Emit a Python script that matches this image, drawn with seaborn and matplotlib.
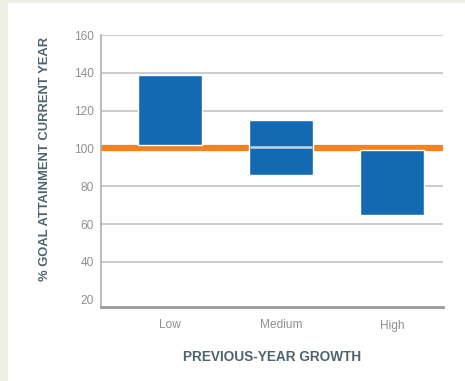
import numpy as np
import pandas as pd
import matplotlib
matplotlib.use("Agg")
import matplotlib.pyplot as plt
import seaborn as sns
from matplotlib.patches import Rectangle

# data
groups = ["Low", "Medium", "High"]
box_low = [102, 86, 65]
box_high = [139, 115, 99]
medium_mark = 100.8          # light line inside the Medium box
target = 100                 # orange reference line
yticks = [20, 40, 60, 80, 100, 120, 140, 160]

df = pd.DataFrame({"group": groups, "low": box_low, "high": box_high})
df["span"] = df["high"] - df["low"]

sns.set_theme(style="white")
plt.rcParams["font.family"] = ["Liberation Sans", "DejaVu Sans"]

fig = plt.figure(figsize=(4.65, 3.81), dpi=100, facecolor="white")
# beige strips on the left and at the top
beige = "#eef0e5"
fig.patches.append(Rectangle((0, 0), 8 / 465, 1, transform=fig.transFigure,
                             facecolor=beige, edgecolor="none"))
fig.patches.append(Rectangle((0, 1 - 3 / 381), 1, 3 / 381, transform=fig.transFigure,
                             facecolor=beige, edgecolor="none"))
ax = fig.add_axes([101 / 465, 1 - 307 / 381, 342 / 465, 272 / 381])
ax.set_facecolor("white")

sns.barplot(data=df, x="group", y="span", bottom=df["low"].values, color="#1469b3",
            saturation=1, width=0.577, ax=ax, zorder=3)

ax.axhline(target, color="#f5821f", lw=4.5, zorder=2)
mi = groups.index("Medium")
ax.hlines(medium_mark, mi - 0.28, mi + 0.28, color="#c9d5e2", lw=1.8, zorder=4)

ax.set_ylim(16.2, 160)
ax.set_xlim(-0.62, 2.46)
ax.set_yticks(yticks)
ax.yaxis.grid(True, color="#c8c8c8", lw=1.3)
ax.get_ygridlines()[0].set_visible(False)
ax.set_axisbelow(True)

for s in ["top", "right"]:
    ax.spines[s].set_visible(False)
ax.spines["left"].set_color("#b0b0b0")
ax.spines["left"].set_linewidth(1.2)
ax.spines["bottom"].set_color("#9a9a9a")
ax.spines["bottom"].set_linewidth(2)

ax.tick_params(axis="both", length=0, labelsize=8.6, labelcolor="#909090")
ax.tick_params(axis="y", pad=5)
ax.tick_params(axis="x", pad=9)

ax.set_xlabel("PREVIOUS-YEAR GROWTH", fontsize=9.8, fontweight="bold",
              color="#4d6470", labelpad=13)
ax.set_ylabel("% GOAL ATTAINMENT CURRENT YEAR", fontsize=9.4, fontweight="bold",
              color="#4d6470")
ax.yaxis.set_label_coords(-0.146, 0.544)

fig.savefig("out.png", dpi=100, facecolor=fig.get_facecolor())
